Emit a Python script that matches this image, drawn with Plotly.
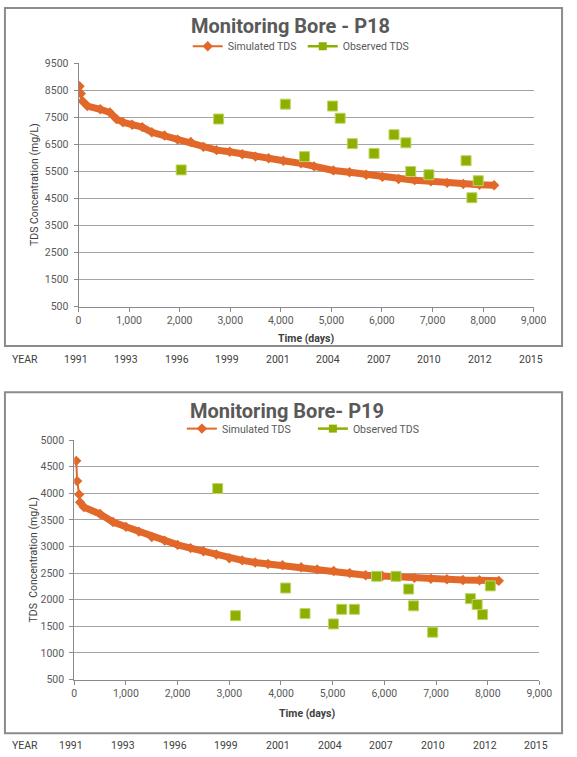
import plotly.graph_objects as go

W, H = 577, 757

# ---------------- data ----------------
years = ["1991", "1993", "1996", "1999", "2001", "2004", "2007", "2010", "2012", "2015"]
year_days = [0, 1000, 2000, 3000, 4000, 5000, 6000, 7000, 8000, 9000]

sim_days_p18 = [20, 45, 80, 175, 430, 620, 750, 880, 1060, 1260, 1450, 1700, 1960, 2220, 2470,
                2730, 2990, 3240, 3500, 3760, 4050, 4400, 4660, 5040, 5360, 5690, 6010, 6330,
                6650, 6970, 7290, 7610, 7930, 8220]
sim_vals_p18 = [8650, 8380, 8100, 7920, 7800, 7680, 7440, 7320, 7230, 7140, 6950, 6830, 6680, 6590,
                6410, 6290, 6230, 6140, 6050, 5990, 5900, 5800, 5690, 5540, 5470, 5380, 5300, 5220,
                5180, 5140, 5080, 5040, 5010, 4990]
obs_days_p18 = [2030, 2770, 4090, 4470, 5025, 5175, 5415, 5845, 6240, 6475, 6570, 6930, 7665, 7780, 7905]
obs_vals_p18 = [5560, 7440, 7990, 6050, 7920, 7470, 6530, 6170, 6860, 6560, 5500, 5380, 5900, 4530, 5160]

sim_days_p19 = [38, 56, 94, 113, 188, 500, 750, 1000, 1250, 1500, 1750, 2000, 2250, 2500, 2750,
                3000, 3250, 3500, 3750, 4030, 4390, 4700, 5020, 5330, 5640, 5960, 6270, 6580, 6900,
                7210, 7520, 7840, 8215]
sim_vals_p19 = [4610, 4230, 3980, 3830, 3740, 3610, 3460, 3370, 3280, 3180, 3110, 3030, 2970, 2910,
                2850, 2780, 2740, 2700, 2670, 2650, 2610, 2570, 2540, 2500, 2460, 2445, 2425, 2410,
                2395, 2385, 2370, 2365, 2355]
obs_days_p19 = [2775, 3120, 4090, 4465, 5015, 5175, 5420, 5850, 6225, 6470, 6565, 6935, 7665, 7795, 7900, 8050]
obs_vals_p19 = [4090, 1700, 2220, 1740, 1545, 1820, 1820, 2440, 2440, 2200, 1885, 1390, 2020, 1910, 1720, 2260]

# ---------------- style ----------------
ORANGE = "#E2682A"
GREEN = "#8DB000"
GRID = "#a3a3a3"
AXIS = "#8a8a8a"
TXT = "#595959"
DARK = "#404040"
FONT = "Roboto, 'Open Sans', sans-serif"


def px_x(p):
    return p / W


def px_y(p):
    return 1 - p / H


fig = go.Figure()


def add_chart(sd, sv, od, ov, xa, ya, leg, band_start):
    # dense band of simulated values
    fig.add_trace(go.Scatter(x=sd[band_start:], y=sv[band_start:], mode="lines",
                             line=dict(color=ORANGE, width=7), showlegend=False,
                             hoverinfo="skip", xaxis=xa, yaxis=ya))
    fig.add_trace(go.Scatter(x=sd, y=sv, mode="lines+markers", name="Simulated TDS",
                             line=dict(color=ORANGE, width=2),
                             marker=dict(symbol="diamond", size=8, color=ORANGE),
                             xaxis=xa, yaxis=ya, legend=leg))
    fig.add_trace(go.Scatter(x=od, y=ov, mode="markers", name="Observed TDS",
                             marker=dict(symbol="square", size=10, color=GREEN,
                                         line=dict(color="#BFD46A", width=1)),
                             showlegend=False, xaxis=xa, yaxis=ya))
    # legend entry for observed (line + square, as in the reference legend)
    fig.add_trace(go.Scatter(x=[None], y=[None], mode="lines+markers", name="Observed TDS",
                             line=dict(color=GREEN, width=2.5),
                             marker=dict(symbol="square", size=8, color=GREEN),
                             xaxis=xa, yaxis=ya, legend=leg))


add_chart(sim_days_p18, sim_vals_p18, obs_days_p18, obs_vals_p18, "x", "y", "legend", 2)
add_chart(sim_days_p19, sim_vals_p19, obs_days_p19, obs_vals_p19, "x2", "y2", "legend2", 3)

xcommon = dict(range=[0, 9000], tickvals=year_days, tickformat=",d", showgrid=False,
               showline=True, linecolor=AXIS, linewidth=1, ticks="outside", ticklen=4,
               tickcolor=AXIS, tickfont=dict(size=10.5, color=TXT, family=FONT), zeroline=False)
ycommon = dict(showgrid=True, gridcolor=GRID, gridwidth=1, showline=True, linecolor=AXIS,
               linewidth=1, ticks="outside", ticklen=4, tickcolor=AXIS, tickformat="d",
               tickfont=dict(size=10.5, color=TXT, family=FONT), zeroline=False,
               ticklabelstandoff=3)

legcommon = dict(orientation="h", xanchor="left", yanchor="middle",
                 font=dict(size=10.5, color=TXT, family=FONT), bgcolor="rgba(0,0,0,0)",
                 itemwidth=30, tracegroupgap=0)

fig.update_layout(
    width=W, height=H, autosize=False,
    margin=dict(l=0, r=0, t=0, b=0),
    paper_bgcolor="white", plot_bgcolor="white",
    font=dict(family=FONT, color=TXT),
    xaxis=dict(domain=[px_x(77.7), px_x(545.7)], anchor="y", **xcommon),
    yaxis=dict(domain=[px_y(306), px_y(58.3)], anchor="x", range=[500, 9500],
               tick0=500, dtick=1000, **ycommon),
    xaxis2=dict(domain=[px_x(73.3), px_x(551.7)], anchor="y2", **xcommon),
    yaxis2=dict(domain=[px_y(685.3), px_y(441.7)], anchor="x2", range=[500, 5000],
                tick0=500, dtick=500, **ycommon),
    legend=dict(x=px_x(190), y=px_y(41), entrywidth=70, **legcommon),
    legend2=dict(x=px_x(184), y=px_y(430), entrywidth=86, **legcommon),
    showlegend=True,
)

# chart frames
for y0, y1 in [(2, 346), (393, 740)]:
    fig.add_shape(type="rect", xref="paper", yref="paper", x0=px_x(2), x1=px_x(575),
                  y0=px_y(y1), y1=px_y(y0), line=dict(color="#8c8c8c", width=2),
                  fillcolor="rgba(0,0,0,0)", layer="below")


def label(text, x, y, size=10.5, color=DARK, xref="paper", angle=0, xshift=0):
    fig.add_annotation(text=text, xref=xref, yref="paper", x=x, y=y, textangle=angle,
                       xanchor="center", yanchor="middle", showarrow=False, xshift=xshift,
                       font=dict(size=size, color=color, family=FONT))


# titles
label("<b>Monitoring Bore - P18</b>", px_x(296), px_y(20), size=20, color=TXT)
label("<b>Monitoring Bore- P19</b>", px_x(292), px_y(412), size=20, color=TXT)

# axis titles
label("TDS Concentration (mg/L)", px_x(33), px_y(182), angle=-90)
label("TDS  Concentration (mg/L)", px_x(31), px_y(564), angle=-90)
label("<b>Time (days)</b>", px_x(311.7), px_y(338))
label("<b>Time (days)</b>", px_x(312.5), px_y(720))

# YEAR rows
for xr, ypx in [("x", 360), ("x2", 752)]:
    label("YEAR", px_x(23), px_y(ypx))
    for d, yr in zip(year_days, years):
        label(yr, d, px_y(ypx), xref=xr, xshift=-3)

fig.write_html("out.html", config={"displayModeBar": False},
               post_script="document.body.style.margin='0';document.body.style.padding='0';")
